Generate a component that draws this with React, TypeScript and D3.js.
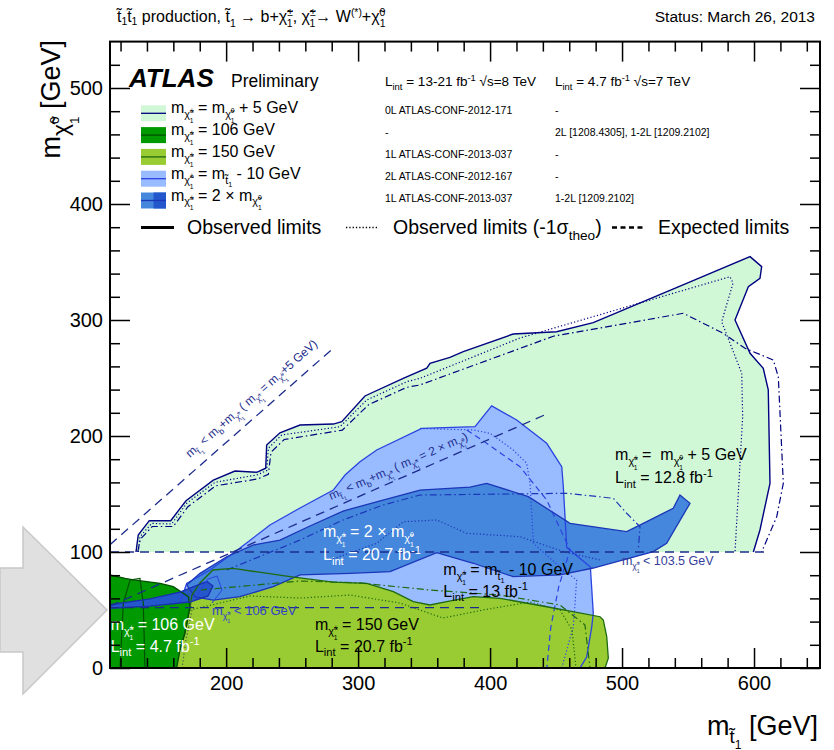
import React, { useEffect, useRef } from "react";
import * as d3 from "d3";

const W = 834, H = 750;

// axis ticks
const xMajor = [200, 300, 400, 500, 600];
const yMajor = [0, 100, 200, 300, 400, 500];

// contours: [m_stop, m_neutralino] in GeV
// 0L, m_chi+ = m_chi0 + 5 GeV
const greenObs = [[131.7,100],[133.4,114.7],[141.8,127],[158,127],[169.6,144.2],[190.3,162],[206.7,169.8],[223.2,168.7],[230,172.2],[230.7,192.2],[240.8,202.8],[256,209.5],[281.2,210.3],[287.6,212.3],[305.2,234.5],[334.2,249.7],[352,258.4],[354.5,262.7],[369.6,267.8],[379.7,272.7],[417.5,287.9],[450.4,289.9],[478.2,297.7],[548.9,331.6],[597,354.6],[605.8,346],[604.5,336],[595.7,328.7],[585.6,300],[597,271.3],[607,258.4],[610.8,239.7],[612.1,159.2],[604.5,119],[599.5,100]];
const greenM1s = [[133.4,100],[134.7,113.2],[143.6,124.7],[158.7,124.1],[170.1,142],[191.6,160.1],[223.2,166.4],[230.7,170.1],[232,189.4],[242.1,200.9],[286.3,208],[306.5,231],[336.8,246.8],[346.9,249.7],[422.7,284.5],[581.8,337.3],[584.1,331.9],[575.5,298.5],[590.7,254],[591.4,216.6],[585.6,100]];
const greenExp = [[133,100],[135,111],[144,122],[160,122],[171,139],[192,157],[224,163],[232,167],[234,186],[244,197],[288,205],[308,227],[337,242],[346.9,244],[447.9,286],[546.4,305.8],[576.7,288.5],[593.2,275.6],[614.6,265.5],[618.4,251.1],[622.2,159.2],[617.2,130.4],[605.8,100]];

// 2L, m_chi+ = m_stop - 10 GeV
const lbArea = [[163.5,32.8],[165,56],[170.1,73],[187.8,84.5],[210.5,103.4],[233.2,123.3],[256,137.9],[281.2,153.4],[290.1,166.4],[301.4,177.8],[314.1,187.9],[348.2,206.6],[388.6,208],[401.2,225.9],[420.2,213.8],[442.9,193.7],[454.3,173.5],[455.5,156.3],[458.1,104],[476,87],[478.2,47.4],[477,35.3],[473.2,9.5],[468.1,0],[162,0]];
const lbM1s = [[346.9,206.5],[387.4,205.2],[400,202.3],[417.6,187.9],[427.7,176.5],[430.3,159.2],[432.8,107.5],[455,85],[465.6,75.9],[463.1,35.6],[454.3,0]];
const lbExp = [[382.3,205.2],[397.4,193.7],[422.7,173.5],[442.9,144.8],[460.6,101.7],[452,70],[446,35],[443,0]];

// 1L, m_chi+ = 2 x m_chi0
const dbArea = [[170.1,71.6],[180.2,81.6],[200.4,95.9],[220.4,106],[240.8,110.3],[263.5,122.4],[288.6,135.3],[318.9,144.8],[346.9,153.4],[384.8,156],[397.4,159.2],[429,147.7],[460.6,124.7],[503.5,117.5],[516.1,124.7],[538.8,137.7],[543.9,149.1],[551.5,142],[533.8,107.5],[523.7,100.3],[478.2,86.2],[453,80.2],[417.6,78.7],[387.3,90.3],[359.6,99.4],[324.2,83],[293.9,81.6],[256,80.2],[235.7,70.1],[210.5,61.5],[190.3,58.6],[176.4,61.2]];
const dbExp = [[200.4,84.5],[256,110.3],[288.6,127.6],[318.9,140.5],[346.9,149.1],[458.1,150.6],[493.4,146.3],[503.5,133.4],[513.6,121.8],[512.3,101.7]];
const dbM1s = [[278.7,93.1],[314.1,107.5],[334.3,126.1],[359.6,127.6],[382.3,116.1],[422.7,113.2],[455.5,100.3],[483.3,93.1]];

// 1L, m_chi+ = 150 GeV
const limeArea = [[162.5,0],[165,15.5],[169.6,34.5],[172.6,52.8],[174.1,62.9],[180.2,73.3],[190,84.5],[205.2,85.9],[248.4,78.7],[281,74.1],[306.5,73],[326.7,65.8],[341.8,57.2],[354.5,54.3],[367.1,57.2],[387.3,61.5],[407.5,60.1],[442.9,52.8],[483.3,44.2],[485.8,41.4],[488.4,27],[489.6,8.4],[487.1,0]];
const limeM1s = [[172.6,50],[218.1,62.1],[256,60.3],[293.9,62.9],[331.7,56],[364.3,43.1],[394.6,50],[430.3,56.9],[453,50],[462.1,32.8],[465.1,0]];
const limeExp = [[180.2,67.2],[256,75],[301.4,73.3],[354.5,67.2],[407.5,62.9],[453,54.3],[471.9,37.1],[475.7,0]];

// 7 TeV, m_chi+ = 106 GeV
const dgArea = [[112,0],[112,80.2],[123.4,77.3],[129.7,75.9],[149.9,73],[160,70.1],[171.3,61.5],[172.6,52.8],[168.8,29.9],[165,15.5],[162.5,0]];
const dgInner = [[119.6,0],[122.1,55.8],[127.2,75.9],[134.7,77.3],[137.2,55.8],[138.5,0]];
const dgM1s = [[171.1,67.2],[174.1,50],[169.6,24.1],[166.6,0]];

// 7 TeV 1-2L, m_chi+ = 2 x m_chi0
const rbArea = [[112,54.5],[142.3,59.5],[165,65.5],[180.2,72.3],[185.5,74.5],[190,70.7],[186.3,62.1],[172.6,56.9],[142.3,53.4],[112,51.5]];
const rbLoop = [[177.2,61.2],[186.3,76.7],[193.1,79.3],[196.9,67.2],[189.3,56]];

// kinematic and LEP limits
const kinPlus5 = [[112,106.3],[280,274.5]];
const kinTwice = [[112,53.5],[442,218.5]];
const lepHigh = [[112,100],[608,100]];
const lepLow = [[112,52],[395,52]];

// legend columns
const col8TeV = ["0L ATLAS-CONF-2012-171", "-", "1L ATLAS-CONF-2013-037", "2L ATLAS-CONF-2012-167", "1L ATLAS-CONF-2013-037"];
const col7TeV = ["-", "2L [1208.4305], 1-2L [1209.2102]", "-", "-", "1-2L [1209.2102]"];

type Part = [string, number, number, number?];
const TT = "t\u0303", CHI = "\u03C7\u0303";
const chiPm: Part[] = [[CHI, 0.3, 0.68], ["\u00B1", -0.02, 0.42], ["1", 0.62, 0.42, -0.245]];
const chi0: Part[] = [[CHI, 0.3, 0.68], ["0", -0.02, 0.42], ["1", 0.62, 0.42, -0.234]];
const t1: Part[] = [[TT, 0.3, 0.68], ["1", 0.5, 0.45]];
const mPm: Part[] = [["m", 0, 1], ...chiPm];
const m0: Part[] = [["m", 0, 1], ...chi0];
const mT: Part[] = [["m", 0, 1], ...t1];
const lint = (v: string): Part[] => [["L", 0, 1], ["int", 0.3, 0.7], [" = " + v + " fb", 0, 1], ["-1", -0.4, 0.7]];

const scenarioLabels: Part[][] = [
  [...mPm, [" = ", 0, 1], ...m0, [" + 5 GeV", 0, 1]],
  [...mPm, [" = 106 GeV", 0, 1]],
  [...mPm, [" = 150 GeV", 0, 1]],
  [...mPm, [" = ", 0, 1], ...mT, [" - 10 GeV", 0, 1]],
  [...mPm, [" = 2 \u00D7 ", 0, 1], ...m0],
];

const C = {
  green: "#d0f8d6", greenLine: "#000080",
  lb: "#99bbff", lbLine: "#2a44e0",
  db: "#4487dc", dbLine: "#1c36b8",
  lime: "#99cc33", limeLine: "#1e6a10",
  dg: "#009900", dgLine: "#005000",
  rb: "#2456cc", kin: "#1c2c8c",
};

function rich(g: any, px: number, py: number, size: number, parts: Part[], fill = "#000") {
  const t = g.append("text").attr("x", px).attr("y", py).attr("font-size", size)
    .attr("fill", fill).style("white-space", "pre");
  let prev = 0;
  parts.forEach(([s, off, sc, dx]) => {
    const ts = t.append("tspan").attr("dy", ((off - prev) * size).toFixed(2)).attr("font-size", (sc * size).toFixed(2)).text(s);
    if (dx) ts.attr("dx", (dx * size).toFixed(2));
    prev = off;
  });
  return t;
}

export default function App() {
  const ref = useRef<SVGSVGElement>(null);

  useEffect(() => {
    const svg = d3.select(ref.current);
    svg.selectAll("*").remove();

    const left = 110, right = 820, top = 41.6, bottom = 668;
    const x = d3.scaleLinear().domain([112, 650]).range([left, right]);
    const y = d3.scaleLinear().domain([0, 540]).range([bottom, top]);
    const line = d3.line<number[]>().x(d => x(d[0])).y(d => y(d[1]));

    // grey arrow on the left
    svg.append("path").attr("d", "M0,568 L23,568 L23,527 L107,610 L23,694 L23,652 L0,652 Z")
      .attr("fill", "#e0e0e0").attr("stroke", "#c8c8c8").attr("stroke-width", 1.5);

    svg.append("defs").append("clipPath").attr("id", "plotclip")
      .append("rect").attr("x", left).attr("y", top).attr("width", right - left).attr("height", bottom - top);
    const plot = svg.append("g").attr("clip-path", "url(#plotclip)");

    // filled regions
    const area = (d: number[][], fill: string) => plot.append("path").attr("d", line(d) + "Z").attr("fill", fill);
    area(greenObs, C.green);
    area(lbArea, C.lb);
    area(limeArea, C.lime);
    area(dbArea, C.db);
    area(dgArea, C.dg);
    area(rbArea, C.rb);

    // contour lines
    const curve = (d: number[][], color: string, dash: string | null, w = 1.2, closed = false) =>
      plot.append("path").attr("d", line(d) + (closed ? "Z" : "")).attr("fill", "none")
        .attr("stroke", color).attr("stroke-width", w).attr("stroke-dasharray", dash);
    const DOT = "1.2,2.2", DASH = "6,4", DDOT = "7,3,1.5,3";

    curve(greenObs, C.greenLine, null, 1.4);
    curve(greenM1s, C.greenLine, DOT);
    curve(greenExp, C.greenLine, DDOT);

    curve(lbArea.slice(1, lbArea.length - 1), C.lbLine, null, 1.3);
    curve(lbM1s, C.lbLine, DOT);
    curve(lbExp, C.lbLine, DASH);

    curve(dbArea, C.dbLine, null, 1.3, true);
    curve(dbM1s, C.dbLine, DOT);
    curve(dbExp, C.dbLine, DDOT);

    curve(limeArea.slice(1), C.limeLine, null, 1.3);
    curve(limeM1s, C.limeLine, DOT);
    curve(limeExp, C.limeLine, DDOT);

    curve(dgArea.slice(1), C.dgLine, null, 1.3);
    curve(dgInner, C.dgLine, null, 1.2);
    curve(dgM1s, "#406040", DOT);

    curve(rbArea, "#1830b0", null, 1.3, true);
    curve(rbLoop, C.lbLine, null, 1);

    curve(kinPlus5, C.kin, "9,6", 1.3);
    curve(kinTwice, C.kin, "9,6", 1.3);
    curve(lepHigh, C.kin, "9,6", 1.3);
    curve(lepLow, C.kin, "9,6", 1.3);

    // annotations inside the plot
    const ang = (d: number[][]) => Math.atan2(y(d[1][1]) - y(d[0][1]), x(d[1][0]) - x(d[0][0])) * 180 / Math.PI;
    const rot1 = svg.append("g").attr("transform", `translate(${x(172.6)},${y(181)}) rotate(${ang(kinPlus5)})`);
    rich(rot1, 0, 0, 12, [...mT, [" < m", 0, 1], ["b", 0.3, 0.7], ["+m", 0, 1], ...chiPm, [" ( m", 0, 1], ...chiPm, [" = m", 0, 1], ...chi0, ["+5 GeV)", 0, 1]], C.kin);
    const rot2 = svg.append("g").attr("transform", `translate(${x(279.5)},${y(144.8)}) rotate(${ang(kinTwice)})`);
    rich(rot2, 0, 0, 12, [...mT, [" < m", 0, 1], ["b", 0.3, 0.7], ["+m", 0, 1], ...chiPm, [" ( m", 0, 1], ...chiPm, [" = 2 \u00D7 m", 0, 1], ...chi0, [")", 0, 1]], C.kin);

    rich(svg, x(189.3), y(45.7), 13, [...mPm, [" < 106 GeV", 0, 1]], "#3442c8");
    rich(svg, x(499.9), y(88.8), 12.5, [...mPm, [" < 103.5 GeV", 0, 1]], "#353f9a");

    const RS = 16;
    rich(svg, x(494.7), y(179.3), RS, [...mPm, [" =  ", 0, 1], ...m0, [" + 5 GeV", 0, 1]]);
    rich(svg, x(494.7), y(159.2), RS, lint("12.8"));
    rich(svg, x(273.4), y(112.9), RS, [...mPm, [" = 2 \u00D7 ", 0, 1], ...m0], "#fff");
    rich(svg, x(273.4), y(93.1), RS, lint("20.7"), "#fff");
    rich(svg, x(364.6), y(80.2), RS, [...mPm, [" = ", 0, 1], ...mT, [" - 10 GeV", 0, 1]]);
    rich(svg, x(364.6), y(61.5), RS, lint("13"));
    rich(svg, x(267.3), y(32.8), RS, [...mPm, [" = 150 GeV", 0, 1]]);
    rich(svg, x(267.3), y(14.1), RS, lint("20.7"));
    rich(svg, x(112.5), y(32.8), RS, [...mPm, [" = 106 GeV", 0, 1]], "#fff");
    rich(svg, x(112.5), y(14.1), RS, lint("4.7"), "#fff");

    // axes
    const xMinor = d3.range(120, 650, 20).filter(v => !xMajor.includes(v));
    const yMinor = d3.range(20, 540, 20).filter(v => !yMajor.includes(v));
    const style = (g: any) => {
      g.select(".domain").remove();
      g.attr("font-family", null).attr("font-size", 20);
      g.selectAll("line").attr("stroke", "#000").attr("stroke-width", 1.5);
      g.selectAll("text").attr("fill", "#000");
    };
    const axes = svg.append("g");
    axes.append("g").attr("transform", `translate(0,${bottom})`)
      .call(d3.axisBottom(x).tickValues(xMajor).tickSize(-20).tickPadding(8).tickFormat(d3.format("d"))).call(style);
    axes.append("g").attr("transform", `translate(0,${bottom})`)
      .call(d3.axisBottom(x).tickValues(xMinor).tickSize(-10).tickFormat(() => "")).call(style);
    axes.append("g").attr("transform", `translate(0,${top})`)
      .call(d3.axisTop(x).tickValues(xMajor).tickSize(-20).tickFormat(() => "")).call(style);
    axes.append("g").attr("transform", `translate(0,${top})`)
      .call(d3.axisTop(x).tickValues(xMinor).tickSize(-10).tickFormat(() => "")).call(style);
    axes.append("g").attr("transform", `translate(${left},0)`)
      .call(d3.axisLeft(y).tickValues(yMajor).tickSize(-20).tickPadding(7).tickFormat(d3.format("d"))).call(style);
    axes.append("g").attr("transform", `translate(${left},0)`)
      .call(d3.axisLeft(y).tickValues(yMinor).tickSize(-10).tickFormat(() => "")).call(style);
    axes.append("g").attr("transform", `translate(${right},0)`)
      .call(d3.axisRight(y).tickValues(yMajor).tickSize(-20).tickFormat(() => "")).call(style);
    axes.append("g").attr("transform", `translate(${right},0)`)
      .call(d3.axisRight(y).tickValues(yMinor).tickSize(-10).tickFormat(() => "")).call(style);
    axes.append("rect").attr("x", left).attr("y", top).attr("width", right - left).attr("height", bottom - top)
      .attr("fill", "none").attr("stroke", "#000").attr("stroke-width", 2);

    // axis titles
    rich(svg, 818, 735, 27, [...mT, [" [GeV]", 0, 1]]).attr("text-anchor", "end");
    const yl = svg.append("g").attr("transform", "translate(60,40) rotate(-90)");
    rich(yl, 0, 0, 27, [["m", 0, 1], [CHI, 0.3, 0.85], ["0", -0.05, 0.5], ["1", 0.7, 0.5, -0.28], [" [GeV]", 0, 1]]).attr("text-anchor", "end");

    // header
    const big = (p: Part) => [p[0], p[1] - 0.3, p[2] * 1.45, p[3]] as Part;
    rich(svg, 117, 22, 16, [...t1.map(big), ...t1.map(big),
      [" production, ", 0, 1], [TT, 0, 1], ["1", 0.3, 0.65], [" \u2192 b+", 0, 1], [CHI, 0, 1], ["\u00B1", -0.4, 0.65], ["1", 0.3, 0.65, -0.38],
      [", ", 0, 1], [CHI, 0, 1], ["\u00B1", -0.4, 0.65], ["1", 0.3, 0.65, -0.38], ["\u2192 W", 0, 1], ["(*)", -0.4, 0.65], ["+", 0, 1],
      [CHI, 0, 1], ["0", -0.4, 0.65], ["1", 0.3, 0.65, -0.36]]);
    svg.append("text").attr("x", 815).attr("y", 22).attr("text-anchor", "end").attr("font-size", 15.5).text("Status: March 26, 2013");

    // legend
    svg.append("text").attr("x", 129).attr("y", 87).attr("font-size", 26).attr("font-weight", "bold")
      .attr("font-style", "italic").text("ATLAS");
    svg.append("text").attr("x", 231).attr("y", 87).attr("font-size", 17.5).text("Preliminary");
    rich(svg, 385, 86, 13.5, [...lint("13-21"), [" \u221As=8 TeV", 0, 1]]);
    rich(svg, 555, 86, 13.5, [...lint("4.7"), [" \u221As=7 TeV", 0, 1]]);

    const boxFill = [C.green, C.dg, C.lime, C.lb, C.db];
    const boxLine = [C.greenLine, C.dgLine, C.limeLine, C.lbLine, C.dbLine];
    scenarioLabels.forEach((lab, i) => {
      const cy = 113.3 + i * 21.8;
      svg.append("rect").attr("x", 141).attr("y", cy - 8).attr("width", 25).attr("height", 16).attr("fill", boxFill[i]);
      if (i === 4) svg.append("rect").attr("x", 153.5).attr("y", cy - 8).attr("width", 12.5).attr("height", 16).attr("fill", C.rb);
      svg.append("line").attr("x1", 141).attr("x2", 166).attr("y1", cy).attr("y2", cy)
        .attr("stroke", boxLine[i]).attr("stroke-width", 1.3);
      rich(svg, 171, cy, 16, lab);
      svg.append("text").attr("x", 385).attr("y", cy + 1).attr("font-size", 10.5).text(col8TeV[i]);
      svg.append("text").attr("x", 555).attr("y", cy + 1).attr("font-size", 10.5).text(col7TeV[i]);
    });

    const ly = 227.5;
    svg.append("line").attr("x1", 141).attr("x2", 174).attr("y1", ly).attr("y2", ly).attr("stroke", "#000").attr("stroke-width", 3);
    svg.append("text").attr("x", 187).attr("y", 234).attr("font-size", 19.5).text("Observed limits");
    svg.append("line").attr("x1", 346).attr("x2", 378).attr("y1", ly).attr("y2", ly).attr("stroke", "#000")
      .attr("stroke-width", 1.5).attr("stroke-dasharray", "1.3,2");
    rich(svg, 393, 234, 19.5, [["Observed limits (-1\u03C3", 0, 1], ["theo", 0.3, 0.7], [")", 0, 1]]);
    svg.append("line").attr("x1", 612).attr("x2", 645).attr("y1", ly).attr("y2", ly).attr("stroke", "#000")
      .attr("stroke-width", 2.5).attr("stroke-dasharray", "5,3.5");
    svg.append("text").attr("x", 658).attr("y", 234).attr("font-size", 19.5).text("Expected limits");
  }, []);

  return (
    <svg ref={ref} width={W} height={H}
      style={{ position: "absolute", left: 0, top: 0, background: "#fff" }}
      fontFamily="'Liberation Sans', Arial, Helvetica, sans-serif" />
  );
}
